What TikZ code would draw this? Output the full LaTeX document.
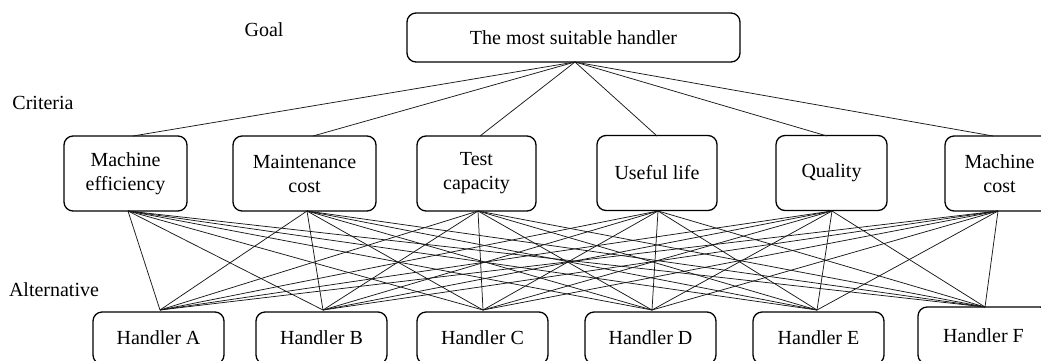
\documentclass[tikz,border=0pt]{standalone}
\usepackage{fontspec}
\setmainfont{Liberation Serif}
\begin{document}
\begin{tikzpicture}[x=1pt,y=-1pt,
  box/.style={draw, line width=1.3pt, rounded corners=9pt, inner sep=0pt,
              align=center, font=\fontsize{20}{24}\selectfont},
  crit/.style={box, minimum height=75pt},
  alt/.style={box, minimum width=131pt, minimum height=52pt},
  link/.style={line width=0.75pt, draw=black!90},
  tag/.style={font=\fontsize{20}{24}\selectfont, inner sep=0pt}]
\clip (0,0) rectangle (1041,360);

% level labels
\node[tag] (lg) at (264,30) {Goal};
\node[tag] (lc) at (43,103) {Criteria};
\node[tag] (la) at (54,290) {Alternative};

% goal
\node[box, minimum width=333pt, minimum height=49pt] (g) at (573.5,37.5) {The most suitable handler};

% criteria
\node[crit, minimum width=123pt] (c1) at (125.5,173.5) {Machine\\efficiency};
\node[crit, minimum width=143pt] (c2) at (304.5,173.5) {Maintenance\\cost};
\node[crit, minimum width=119pt] (c3) at (476.5,173.5) {Test\\capacity};
\node[crit, minimum width=120pt] (c4) at (657,173) {Useful life};
\node[crit, minimum width=111pt] (c5) at (831.5,173) {Quality};
\node[crit, minimum width=109pt] (c6) at (999.5,173.5) {Machine\\cost};

% alternatives
\node[alt] (h1) at (158.5,338) {Handler A};
\node[alt] (h2) at (321.5,338) {Handler B};
\node[alt] (h3) at (482.5,338) {Handler C};
\node[alt] (h4) at (650.5,338) {Handler D};
\node[alt] (h5) at (818.5,338) {Handler E};
\node[alt, minimum height=57pt] (h6) at (983.5,335.5) {Handler F};

% attachment points
\coordinate (g-b) at (575,62);
\foreach \i/\xt/\xb in {1/133/128, 2/313/307, 3/480/478, 4/657/658, 5/827/832, 6/993/998}{
  \coordinate (c\i-t) at (\xt,136);
  \coordinate (c\i-b) at (\xb,211);
}
\foreach \j/\xh in {1/160, 2/323, 3/483, 4/652, 5/817}{
  \coordinate (h\j-t) at (\xh,310);
}
\coordinate (h6-t) at (985,307);

% goal to criteria
\foreach \i in {1,...,6}{
  \draw[link] (g-b) -- (c\i-t);
}
% criteria to alternatives
\foreach \i in {1,...,6}{
  \foreach \j in {1,...,6}{
    \draw[link] (c\i-b) -- (h\j-t);
  }
}
\end{tikzpicture}
\end{document}
